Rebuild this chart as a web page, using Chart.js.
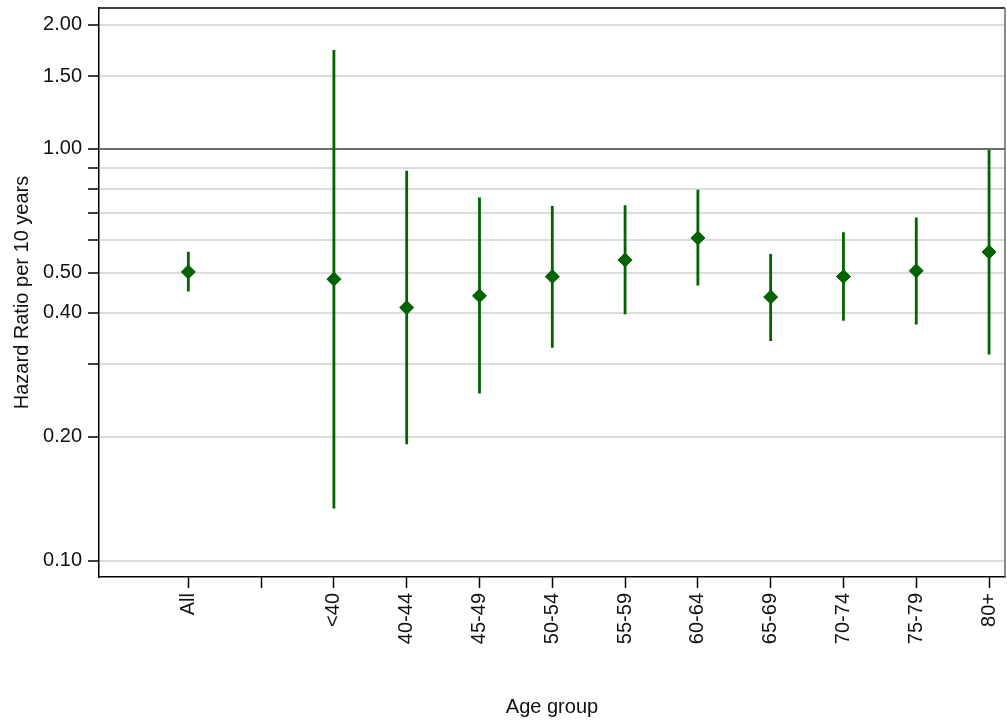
<!DOCTYPE html>
<html lang="en">
<head>
    <meta charset="UTF-8">
    <title>Hazard Ratio by Age group</title>
    <script src="https://cdn.jsdelivr.net/npm/chart.js"></script>
    <style>
        body {
            margin: 0;
            background: #fff;
        }

        .chart-box {
            width: 1007px;
            height: 724px;
        }
    </style>
</head>
<body>
    <div class="chart-box">
        <canvas id="hrChart"></canvas>
    </div>

    <script>
        // categories (index 1 is an empty spacer slot between "All" and the age bands)
        const ageGroups = ["All", "", "<40", "40-44", "45-49", "50-54", "55-59", "60-64", "65-69", "70-74", "75-79", "80+"];
        const hazardRatio = [0.503, null, 0.483, 0.412, 0.440, 0.490, 0.538, 0.608, 0.437, 0.490, 0.506, 0.562];
        const lowerCI = [0.451, null, 0.134, 0.192, 0.255, 0.329, 0.397, 0.466, 0.342, 0.383, 0.375, 0.317];
        const upperCI = [0.563, null, 1.738, 0.886, 0.762, 0.727, 0.730, 0.796, 0.556, 0.628, 0.682, 0.994];

        // y axis ticks: all get a grid line, only some get a label
        const yTickValues = [0.1, 0.2, 0.3, 0.4, 0.5, 0.6, 0.7, 0.8, 0.9, 1.0, 1.5, 2.0];
        const yTickLabels = { 0.1: "0.10", 0.2: "0.20", 0.4: "0.40", 0.5: "0.50", 1: "1.00", 1.5: "1.50", 2: "2.00" };

        const green = "#006400";

        Chart.defaults.font.family = "'Liberation Sans', Arial, Helvetica, sans-serif";
        Chart.defaults.font.size = 20;
        Chart.defaults.color = "#111";

        // points of the estimate
        const pointData = [];
        // CI segments, separated by null so the line breaks between groups
        const ciData = [];
        ageGroups.forEach((g, i) => {
            if (hazardRatio[i] === null) return;
            pointData.push({ x: i, y: hazardRatio[i] });
            ciData.push({ x: i, y: lowerCI[i] });
            ciData.push({ x: i, y: upperCI[i] });
            ciData.push({ x: i, y: null });
        });

        // top and right edges of the plot frame
        const framePlugin = {
            id: "frame",
            beforeDatasetsDraw(chart) {
                const { ctx, chartArea: a } = chart;
                ctx.save();
                ctx.lineWidth = 1.5;
                ctx.strokeStyle = "#000";
                ctx.beginPath();
                ctx.moveTo(a.left, a.top);
                ctx.lineTo(a.right, a.top);
                ctx.stroke();
                ctx.strokeStyle = "#666";
                ctx.beginPath();
                ctx.moveTo(a.right, a.top);
                ctx.lineTo(a.right, a.bottom);
                ctx.stroke();
                ctx.restore();
            }
        };

        const ctx = document.getElementById("hrChart").getContext("2d");
        new Chart(ctx, {
            type: "scatter",
            data: {
                datasets: [
                    {
                        type: "line",
                        label: "95% CI",
                        data: ciData,
                        borderColor: green,
                        borderWidth: 2.8,
                        pointRadius: 0,
                        spanGaps: false,
                        tension: 0,
                        borderCapStyle: "butt"
                    },
                    {
                        label: "Hazard ratio",
                        data: pointData,
                        pointStyle: "rectRot",
                        pointRadius: 7,
                        pointBorderWidth: 1,
                        backgroundColor: green,
                        borderColor: green
                    }
                ]
            },
            options: {
                responsive: true,
                maintainAspectRatio: false,
                animation: false,
                layout: {
                    autoPadding: false,
                    padding: { top: 8, right: 2, left: 0, bottom: 0 }
                },
                plugins: {
                    legend: { display: false },
                    tooltip: { enabled: false }
                },
                scales: {
                    x: {
                        type: "linear",
                        min: -1.227,
                        max: 11.219,
                        afterBuildTicks: scale => {
                            scale.ticks = ageGroups.map((g, i) => ({ value: i }));
                        },
                        afterFit: scale => {
                            scale.height = 147;
                            scale.paddingLeft = 0;
                            scale.paddingRight = 0;
                        },
                        ticks: {
                            autoSkip: false,
                            minRotation: 90,
                            maxRotation: 90,
                            padding: 5,
                            color: "#111",
                            callback: v => ageGroups[v]
                        },
                        grid: {
                            drawOnChartArea: false,
                            tickLength: 11,
                            tickColor: "#000",
                            tickWidth: 1.5
                        },
                        border: { color: "#000", width: 1.5 },
                        title: {
                            display: true,
                            text: "Age group",
                            color: "#111",
                            padding: { top: 0, bottom: 5 }
                        }
                    },
                    y: {
                        type: "logarithmic",
                        min: 0.0914,
                        max: 2.199,
                        bounds: "data",
                        afterBuildTicks: scale => {
                            scale.ticks = yTickValues.map(v => ({ value: v }));
                        },
                        afterFit: scale => {
                            scale.width = 99;
                            scale.paddingTop = 0;
                            scale.paddingBottom = 0;
                        },
                        ticks: {
                            autoSkip: false,
                            padding: 6,
                            color: "#111",
                            callback: v => yTickLabels[v] || ""
                        },
                        grid: {
                            color: c => (c.tick && c.tick.value === 1 ? "#6e6e6e" : "#dcdcdc"),
                            lineWidth: 2,
                            tickLength: 11,
                            tickColor: "#000",
                            tickWidth: 1.5
                        },
                        border: { color: "#000", width: 1.5 },
                        title: {
                            display: true,
                            text: "Hazard Ratio per 10 years",
                            color: "#111",
                            padding: { top: 10, bottom: 0 }
                        }
                    }
                }
            },
            plugins: [framePlugin]
        });
    </script>
</body>
</html>
